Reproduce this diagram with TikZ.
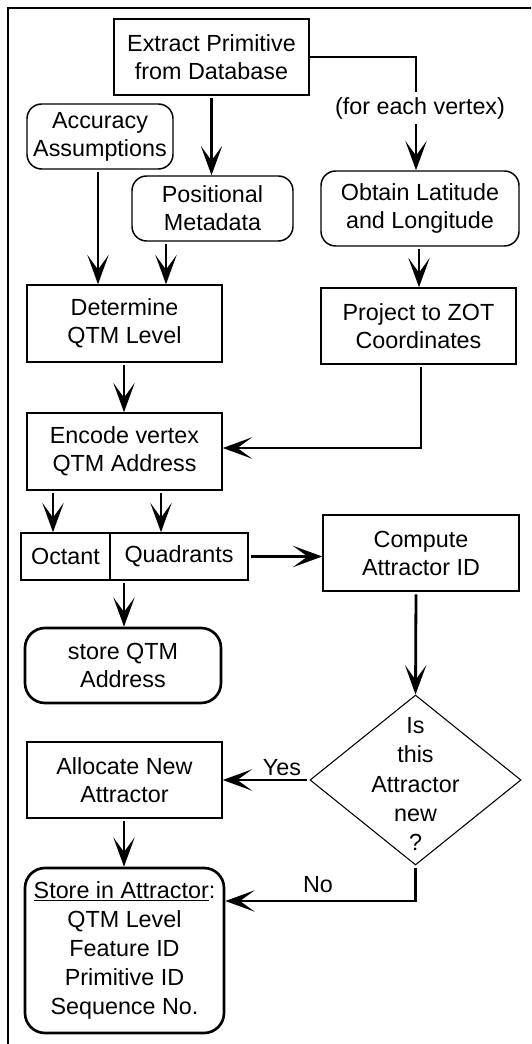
\documentclass[tikz,border=0pt]{standalone}
\usepackage{fontspec}
\setmainfont{Liberation Sans}
\usetikzlibrary{arrows.meta,shapes.geometric}

\tikzset{
  lbl/.style={font=\fontsize{17.5}{21}\selectfont, align=center, inner sep=0pt},
  sz/.style 2 args={minimum width=#1*0.75pt, minimum height=#2*0.75pt},
  box/.style={lbl, draw, line width=1.1pt, rectangle},
  rbox/.style={box, rounded corners=11pt},
  term/.style={box, line width=2pt, rounded corners=15pt},
  flow/.style={line width=2.1pt, shorten <=2pt,
    -{Stealth[length=22pt,width=16pt,inset=11pt]}},
}

\begin{document}
\begin{tikzpicture}[x=0.75pt,y=-0.75pt]
\useasboundingbox (0,0) rectangle (531,1044);
\fill[white] (0,0) rectangle (531,1044);

% outer frame
\draw[line width=1.1pt] (8,1044) -- (8,8) -- (531,8);

% process boxes
\node[box, sz={195}{76}]  (ext) at (211.5,57)  {Extract Primitive\\from Database};
\node[rbox, sz={146}{65}] (acc) at (100,136.5) {Accuracy\\Assumptions};
\node[rbox, sz={161}{65}] (pos) at (212.5,208.5) {Positional\\Metadata};
\node[rbox, sz={198}{75}] (obt) at (420,208.5) {Obtain Latitude\\and Longitude};
\node[box, sz={195}{77}]  (det) at (124.5,323.5) {Determine\\QTM Level};
\node[box, sz={195}{76}]  (prj) at (418.5,326) {Project to ZOT\\Coordinates};
\node[box, sz={195}{77}]  (enc) at (124.5,451.5) {Encode vertex\\QTM Address};
\node[box, sz={89}{47}]   (oct) at (65.5,556.5) {Octant};
\node[box, sz={138}{47}]  (qua) at (179,556.5) {Quadrants};
\node[box, sz={196}{76}]  (cmp) at (421,553) {Compute\\Attractor ID};
\node[term, sz={196}{75}] (sqa) at (123,665.5) {store QTM\\Address};
\node[draw, diamond, line width=0.8pt, inner sep=0pt, sz={211}{170}] (dec) at (415.5,780) {};
\node[lbl, font=\fontsize{17.5}{22}\selectfont] (dect) at (415.5,784) {Is\\this\\Attractor\\new\\?};
\node[box, sz={195}{76}]  (alc) at (124.5,780) {Allocate New\\Attractor};
\node[term, sz={199}{165}, font=\fontsize{17.5}{21.75}\selectfont] (sto) at (124.5,950.5)
  {\underline{Store in Attractor}:\\QTM Level\\Feature ID\\Primitive ID\\Sequence No.};

% connector columns and rows
\coordinate (xv) at (416,0);
\coordinate (xa) at (98,0);
\coordinate (xp) at (166,0);
\coordinate (xo) at (419,0);
\coordinate (xd) at (124,0);
\coordinate (xr) at (421,0);
\coordinate (xc) at (53,0);
\coordinate (xq) at (161,0);
\coordinate (ye) at (0,448);
\coordinate (yn) at (0,901);

% connectors
\draw[flow] (ext.south) -- (ext.south |- pos.north);
\draw[flow, shorten <=0pt] (ext.east) -| (xv |- obt.north);
\node[lbl, fill=white, inner sep=4pt] (fev) at (420,108) {(for each vertex)};
\draw[flow] (xa |- acc.south) -- (xa |- det.north);
\draw[flow] (xp |- pos.south) -- (xp |- det.north);
\draw[flow] (xo |- obt.south) -- (xo |- prj.north);
\draw[flow] (xd |- det.south) -- (xd |- enc.north);
\draw[flow] (xr |- prj.south) -- (xr |- ye) -- (ye -| enc.east);
\draw[flow] (xc |- enc.south) -- (xc |- oct.north);
\draw[flow] (xq |- enc.south) -- (xq |- qua.north);
\draw[flow] (qua.east) -- (qua.east -| cmp.west);
\draw[flow] (xd |- qua.south) -- (xd |- sqa.north);
\draw[flow] (xv |- cmp.south) -- (dec.north);
\draw[flow] (dec.west) -- (dec.west -| alc.east);
\node[lbl] (yes) at (282,768) {Yes};
\draw[flow] (dec.south) -- (dec.south |- yn) -- (yn -| sto.east);
\node[lbl] (no) at (318,885) {No};
\draw[flow] (xd |- alc.south) -- (xd |- sto.north);
\end{tikzpicture}
\end{document}
